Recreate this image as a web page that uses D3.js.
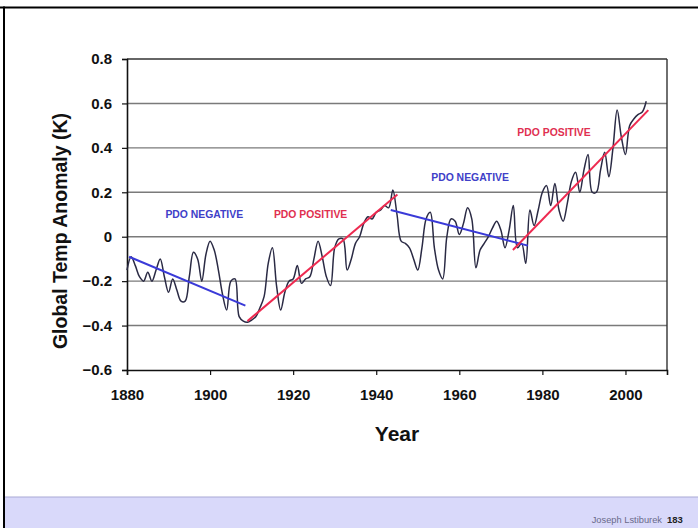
<!DOCTYPE html>
<html><head><meta charset="utf-8">
<script src="https://cdn.jsdelivr.net/npm/d3@7"></script>
<style>html,body{margin:0;padding:0;background:#fff;}svg{display:block;}</style>
</head><body>
<svg id="c" width="698" height="528"></svg>
<script>
const years = d3.range(1880, 2006);
const anomaly = [
-0.15,-0.09,-0.13,-0.18,-0.20,-0.16,-0.20,-0.15,-0.10,-0.18,
-0.25,-0.19,-0.24,-0.29,-0.29,-0.18,-0.07,-0.10,-0.20,-0.08,
-0.02,-0.06,-0.15,-0.26,-0.33,-0.20,-0.19,-0.36,-0.38,-0.385,
-0.375,-0.36,-0.32,-0.27,-0.12,-0.05,-0.22,-0.33,-0.25,-0.20,
-0.19,-0.13,-0.21,-0.19,-0.18,-0.10,-0.02,-0.09,-0.18,-0.22,
-0.05,-0.01,-0.01,-0.15,-0.10,-0.03,0.00,0.06,0.09,0.08,
0.11,0.12,0.14,0.13,0.21,0.10,-0.02,-0.03,-0.05,-0.10,
-0.15,-0.05,0.08,0.11,-0.05,-0.15,-0.19,0.00,0.08,0.07,
0.01,0.06,0.13,0.08,-0.14,-0.06,-0.03,0.00,0.04,0.07,
0.03,-0.05,0.03,0.14,-0.05,-0.03,-0.12,0.12,0.05,0.12,
0.20,0.23,0.14,0.24,0.12,0.07,0.15,0.25,0.29,0.20,
0.30,0.37,0.20,0.20,0.30,0.38,0.27,0.40,0.57,0.45,
0.37,0.50,0.53,0.55,0.56,0.61];

// trend segments: [startYear, startValue, endYear, endValue]
const trendYears0 = [1880.5, 1909, 1943.5, 1972.9];
const trendVals0  = [-0.09, -0.38, 0.12, -0.06];
const trendYears1 = [1908.5, 1945.1, 1976.5, 2005.5];
const trendVals1  = [-0.31, 0.19, -0.04, 0.57];
const trendPhase  = ["neg", "pos", "neg", "pos"];

const phaseLabels = ["PDO NEGATIVE", "PDO POSITIVE", "PDO NEGATIVE", "PDO POSITIVE"];
const labelYears  = [1898.6, 1924.2, 1962.6, 1982.8];
const labelVals   = [0.095, 0.095, 0.265, 0.465];

const xTicks = [1880, 1900, 1920, 1940, 1960, 1980, 2000];
const yTicks = [-0.6, -0.4, -0.2, 0, 0.2, 0.4, 0.6, 0.8];

const svg = d3.select("#c");
const W = 698, H = 528;
const FONT = "'Liberation Sans', Arial, sans-serif";

// slide background, border and footer band
svg.append("rect").attr("x",0).attr("y",0).attr("width",W).attr("height",H).attr("fill","#fff");
svg.append("rect").attr("x",4).attr("y",497).attr("width",W-4).attr("height",H-497).attr("fill","#d9d9fa");
svg.append("line").attr("x1",4).attr("x2",W).attr("y1",497).attr("y2",497).attr("stroke","#a9a9d6").attr("stroke-width",1.2);
svg.append("line").attr("x1",0).attr("x2",W).attr("y1",7.5).attr("y2",7.5).attr("stroke","#000").attr("stroke-width",2);
svg.append("line").attr("x1",4).attr("x2",4).attr("y1",6.5).attr("y2",H).attr("stroke","#000").attr("stroke-width",2);

const L = 127, R = 667, T = 59, B = 370;
const x = d3.scaleLinear().domain([1880, 2010]).range([L, R]);
const y = d3.scaleLinear().domain([-0.6, 0.8]).range([B, T]);

// gridlines
svg.append("g").selectAll("line").data(yTicks.slice(1)).join("line")
  .attr("x1", L).attr("x2", R)
  .attr("y1", d => y(d)).attr("y2", d => y(d))
  .attr("stroke", d => d === 0.8 ? "#333" : "#7a7a7a").attr("stroke-width", 1.4);
// right border
svg.append("line").attr("x1",R).attr("x2",R).attr("y1",T).attr("y2",B).attr("stroke","#333").attr("stroke-width",1.4);

// axes
const yAxis = d3.axisLeft(y).tickValues(yTicks).tickSize(5).tickPadding(10).tickFormat(d3.format(".1f"));
const gy = svg.append("g").attr("transform", `translate(${L},0)`).call(yAxis);
const xAxis = d3.axisBottom(x).tickValues(xTicks).tickSize(5).tickPadding(14).tickFormat(d3.format("d"));
const gx = svg.append("g").attr("transform", `translate(0,${B})`).call(xAxis);
[gx, gy].forEach(g => {
  g.select(".domain").attr("stroke","#111").attr("stroke-width",1.6);
  g.selectAll(".tick line").attr("stroke","#111").attr("stroke-width",1.2);
  g.selectAll(".tick text").attr("fill","#111").attr("font-family",FONT)
    .attr("font-weight","bold").attr("font-size", 15);
});
gy.selectAll(".tick text").text(d => d === 0 ? "0" : d3.format(".1f")(d));

// temperature curve
const line = d3.line().x((d,i) => x(years[i])).y(d => y(d)).curve(d3.curveCatmullRom.alpha(0.5));
svg.append("path").datum(anomaly).attr("d", line)
  .attr("fill","none").attr("stroke","#2a2a44").attr("stroke-width",1.5);

// trend lines
const trendColor = {neg: "#3a3ad8", pos: "#ee2a50"};
svg.append("g").selectAll("line").data(trendPhase).join("line")
  .attr("x1", (d,i) => x(trendYears0[i])).attr("y1", (d,i) => y(trendVals0[i]))
  .attr("x2", (d,i) => x(trendYears1[i])).attr("y2", (d,i) => y(trendVals1[i]))
  .attr("stroke", d => trendColor[d]).attr("stroke-width", 2);

// phase labels
const labelColor = ["#4040c8", "#e03050", "#4040c8", "#e03050"];
svg.append("g").selectAll("text").data(phaseLabels).join("text")
  .attr("x", (d,i) => x(labelYears[i])).attr("y", (d,i) => y(labelVals[i]))
  .attr("text-anchor","middle").attr("dominant-baseline","middle")
  .attr("font-family",FONT).attr("font-weight","bold")
  .attr("font-size", 10.4).attr("fill", (d,i) => labelColor[i])
  .text(d => d);

// axis titles
svg.append("text").attr("x", (L+R)/2).attr("y", 441).attr("text-anchor","middle")
  .attr("font-family",FONT).attr("font-weight","bold")
  .attr("font-size", 21).attr("fill","#111").text("Year");
svg.append("text").attr("transform","translate(67,231) rotate(-90)").attr("text-anchor","middle")
  .attr("font-family",FONT).attr("font-weight","bold")
  .attr("font-size", 19.5).attr("fill","#111").text("Global Temp Anomaly (K)");

// footer
svg.append("text").attr("x", 662).attr("y", 523).attr("text-anchor","end")
  .attr("font-family",FONT).attr("font-size", 9.3)
  .attr("fill","#6a6a8a").text("Joseph Lstiburek");
svg.append("text").attr("x", 667).attr("y", 523)
  .attr("font-family",FONT).attr("font-size", 9.5).attr("font-weight","bold")
  .attr("fill","#222").text("183");
</script>
</body></html>
